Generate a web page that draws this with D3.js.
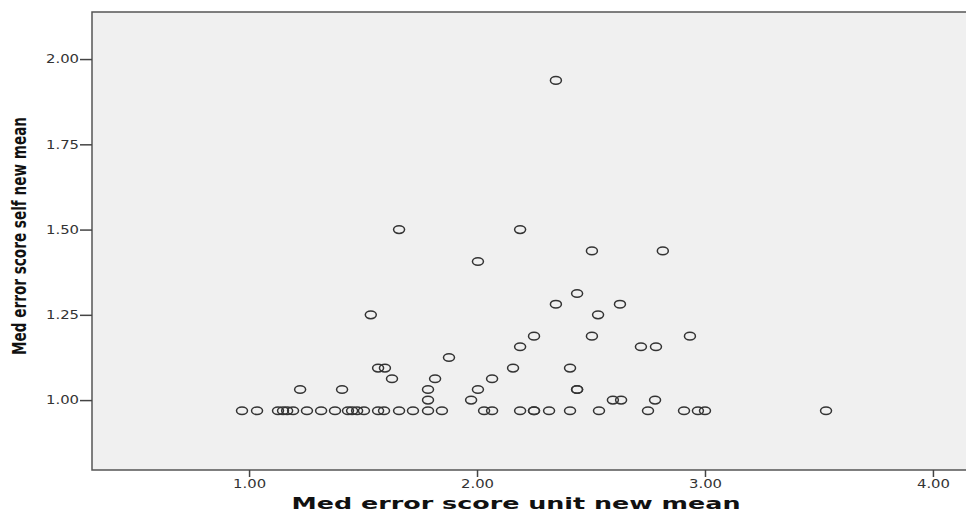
<!DOCTYPE html>
<html>
<head>
<meta charset="utf-8">
<script src="https://cdnjs.cloudflare.com/ajax/libs/d3/7.8.5/d3.min.js"></script>
<style>
body { margin: 0; background: #fff; }
.tick text { font-family: "DejaVu Sans", sans-serif; font-size: 12px; fill: #333; }
.ylab { font-family: "Liberation Sans Narrow", "DejaVu Sans", sans-serif; font-stretch: condensed; font-weight: bold; font-size: 20px; fill: #111; }
.xlab { font-family: "DejaVu Sans", sans-serif; font-weight: bold; font-size: 15.5px; fill: #111; }
</style>
</head>
<body>
<svg id="chart"></svg>
<script>
// unit mean (x) and self mean (y) for each case
var unitMean = [
  0.969, 1.035, 1.127, 1.149, 1.167, 1.193, 1.254, 1.316, 1.377, 1.434,
  1.452, 1.474, 1.504, 1.566, 1.592, 1.658, 1.719, 1.785, 1.846, 2.031,
  2.066, 2.189, 2.250, 2.250, 2.316, 2.408, 2.535, 2.750, 2.908, 2.969,
  3.000, 3.531,
  1.785, 1.974, 2.596, 2.632, 2.781,
  1.224, 1.408, 1.785, 2.004, 2.439, 2.439,
  1.627, 1.816, 2.066,
  1.566, 1.596, 2.158, 2.408,
  1.877,
  2.189, 2.719, 2.785,
  2.250, 2.504, 2.934,
  1.534, 2.531,
  2.346, 2.627,
  2.439,
  2.004,
  2.504, 2.815,
  1.658, 2.189,
  2.346
];
var selfMean = [
  0.96875, 0.96875, 0.96875, 0.96875, 0.96875, 0.96875, 0.96875, 0.96875, 0.96875, 0.96875,
  0.96875, 0.96875, 0.96875, 0.96875, 0.96875, 0.96875, 0.96875, 0.96875, 0.96875, 0.96875,
  0.96875, 0.96875, 0.96875, 0.96875, 0.96875, 0.96875, 0.96875, 0.96875, 0.96875, 0.96875,
  0.96875, 0.96875,
  1.0, 1.0, 1.0, 1.0, 1.0,
  1.03125, 1.03125, 1.03125, 1.03125, 1.03125, 1.03125,
  1.0625, 1.0625, 1.0625,
  1.09375, 1.09375, 1.09375, 1.09375,
  1.125,
  1.15625, 1.15625, 1.15625,
  1.1875, 1.1875, 1.1875,
  1.25, 1.25,
  1.28125, 1.28125,
  1.3125,
  1.40625,
  1.4375, 1.4375,
  1.5, 1.5,
  1.9375
];
var xTicks = [1, 2, 3, 4];
var yTicks = [1.0, 1.25, 1.5, 1.75, 2.0];

var points = unitMean.map(function(u, i) { return {x: u, y: selfMean[i]}; });

var screen = {width: 966, height: 515};
var plot = {left: 92, top: 12, right: 970, bottom: 470};

var svg = d3.select("#chart")
    .attr("width", screen.width)
    .attr("height", screen.height);

var xScale = d3.scaleLinear()
    .domain([0.311, 4.145])
    .range([plot.left, 966]);

var yScale = d3.scaleLinear()
    .domain([0.795, 2.138])
    .range([plot.bottom, plot.top]);

//plot background and frame
svg.append("rect")
    .attr("x", plot.left)
    .attr("y", plot.top)
    .attr("width", plot.right - plot.left)
    .attr("height", plot.bottom - plot.top)
    .attr("fill", "#f0f0f0")
    .attr("stroke", "#555")
    .attr("stroke-width", 1.5);

//axes
var xAxis = d3.axisBottom(xScale)
    .tickValues(xTicks)
    .tickFormat(d3.format(".2f"))
    .tickSize(7)
    .tickSizeOuter(0);
var yAxis = d3.axisLeft(yScale)
    .tickValues(yTicks)
    .tickFormat(d3.format(".2f"))
    .tickSize(12)
    .tickSizeOuter(0);

var gx = svg.append("g")
    .attr("transform", "translate(0," + plot.bottom + ")")
    .call(xAxis);
gx.select(".domain").remove();
gx.selectAll(".tick line").attr("stroke", "#444").attr("stroke-width", 1.5);
gx.selectAll(".tick text")
    .attr("y", 18)
    .attr("dy", 0)
    .attr("textLength", 33)
    .attr("lengthAdjust", "spacingAndGlyphs");

var gy = svg.append("g")
    .attr("transform", "translate(" + plot.left + ",0)")
    .call(yAxis);
gy.select(".domain").remove();
gy.selectAll(".tick line").attr("stroke", "#444").attr("stroke-width", 1.5);
gy.selectAll(".tick text")
    .attr("x", -13)
    .attr("textLength", 33)
    .attr("lengthAdjust", "spacingAndGlyphs");

//labels
svg.append("text")
    .classed("xlab", true)
    .attr("text-anchor", "middle")
    .attr("x", 516)
    .attr("y", 509)
    .attr("textLength", 449)
    .attr("lengthAdjust", "spacingAndGlyphs")
    .text("Med error score unit new mean");

svg.append("g")
    .attr("transform", "translate(26,236)")
    .append("text")
    .classed("ylab", true)
    .attr("text-anchor", "middle")
    .attr("transform", "rotate(-90)")
    .attr("textLength", 238)
    .attr("lengthAdjust", "spacingAndGlyphs")
    .text("Med error score self new mean");

//points
svg.append("g")
    .selectAll("ellipse")
    .data(points)
    .enter()
    .append("ellipse")
    .attr("cx", function(d) { return xScale(d.x); })
    .attr("cy", function(d) { return yScale(d.y); })
    .attr("rx", 5.5)
    .attr("ry", 3.8)
    .attr("fill", "none")
    .attr("stroke", "#333")
    .attr("stroke-width", 1.5);
</script>
</body>
</html>
